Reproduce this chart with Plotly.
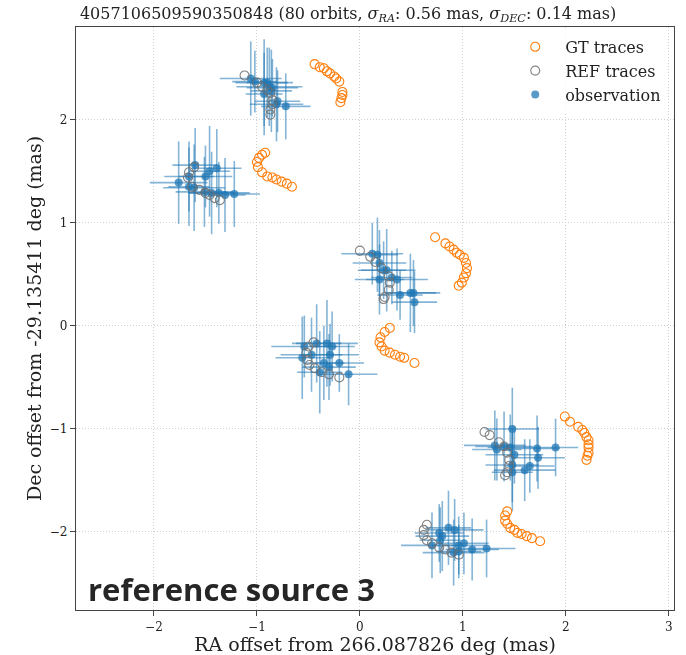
import plotly.graph_objects as go

# ---------------- data (mas offsets) ----------------
gt_ra = [-0.44, -0.39, -0.35, -0.32, -0.29, -0.25, -0.23, -0.20, -0.17, -0.17, -0.18, -0.19,
         -0.92, -0.95, -0.98, -1.00, -0.99, -0.95, -0.90, -0.85, -0.81, -0.76, -0.71, -0.66,
         0.73, 0.83, 0.87, 0.91, 0.94, 0.97, 1.01, 1.03, 1.04, 1.03, 1.01, 0.99, 0.96,
         0.29, 0.24, 0.20, 0.19, 0.21, 0.24, 0.29, 0.34, 0.39, 0.43, 0.53,
         1.99, 2.04, 2.12, 2.16, 2.18, 2.20, 2.22, 2.22, 2.22, 2.22, 2.21, 2.20,
         1.43, 1.41, 1.41, 1.43, 1.46, 1.50, 1.53, 1.57, 1.62, 1.67, 1.75]
gt_dec = [2.54, 2.51, 2.50, 2.47, 2.45, 2.42, 2.40, 2.37, 2.27, 2.24, 2.21, 2.17,
          1.68, 1.66, 1.63, 1.59, 1.54, 1.49, 1.45, 1.44, 1.42, 1.40, 1.38, 1.35,
          0.86, 0.80, 0.77, 0.74, 0.71, 0.69, 0.66, 0.61, 0.56, 0.51, 0.47, 0.42, 0.39,
          -0.02, -0.06, -0.11, -0.16, -0.20, -0.24, -0.26, -0.28, -0.30, -0.31, -0.36,
          -0.88, -0.93, -0.98, -1.01, -1.04, -1.08, -1.11, -1.15, -1.18, -1.23, -1.26, -1.30,
          -1.80, -1.84, -1.89, -1.92, -1.96, -1.98, -2.01, -2.02, -2.04, -2.06, -2.09]

ref_ra = [-1.12, -1.00, -0.95, -0.90, -0.87, -0.85, -0.85, -0.87, -0.87,
          -1.61, -1.66, -1.67, -1.63, -1.56, -1.50, -1.46, -1.41, -1.36,
          0.00, 0.10, 0.15, 0.21, 0.28, 0.29, 0.28, 0.24, 0.23,
          -0.45, -0.50, -0.52, -0.51, -0.49, -0.44, -0.37, -0.30, -0.20,
          1.21, 1.26, 1.35, 1.40, 1.43, 1.45, 1.45, 1.43, 1.41,
          0.65, 0.62, 0.62, 0.65, 0.70, 0.77, 0.83, 0.89, 0.96]
ref_dec = [2.43, 2.36, 2.32, 2.29, 2.26, 2.19, 2.15, 2.10, 2.05,
           1.54, 1.49, 1.44, 1.35, 1.32, 1.29, 1.27, 1.24, 1.22,
           0.73, 0.67, 0.62, 0.56, 0.48, 0.42, 0.35, 0.28, 0.26,
           -0.16, -0.20, -0.26, -0.33, -0.38, -0.41, -0.45, -0.47, -0.50,
           -1.03, -1.06, -1.13, -1.17, -1.23, -1.30, -1.36, -1.42, -1.45,
           -1.93, -1.98, -2.03, -2.08, -2.11, -2.15, -2.17, -2.20, -2.22]

obs_ra = [-1.06, -1.02, -0.93, -0.90, -0.85, -0.93, -0.88, -0.80, -0.81, -0.72, -0.86,
          -1.76, -1.66, -1.66, -1.61, -1.60, -1.50, -1.46, -1.39, -1.51, -1.44, -1.37, -1.31, -1.22,
          0.12, 0.17, 0.19, 0.23, 0.26, 0.19, 0.31, 0.36, 0.39, 0.49, 0.52, 0.53,
          -0.54, -0.56, -0.42, -0.32, -0.27, -0.29, -0.35, -0.30, -0.20, -0.11, -0.39, -0.47,
          1.48, 1.31, 1.33, 1.46, 1.50, 1.48, 1.48, 1.60, 1.65, 1.72, 1.73, 1.90, 1.40,
          0.70, 0.77, 0.80, 0.86, 0.92, 0.78, 0.96, 1.01, 0.96, 0.91, 1.09, 1.23]
obs_dec = [2.40, 2.37, 2.36, 2.36, 2.31, 2.25, 2.32, 2.18, 2.15, 2.13, 2.28,
           1.39, 1.45, 1.35, 1.34, 1.56, 1.45, 1.50, 1.53, 1.30, 1.29, 1.29, 1.27, 1.28,
           0.70, 0.69, 0.61, 0.54, 0.54, 0.45, 0.47, 0.45, 0.30, 0.32, 0.32, 0.23,
           -0.20, -0.31, -0.17, -0.17, -0.20, -0.28, -0.36, -0.40, -0.36, -0.47, -0.45, -0.28,
           -1.00, -1.16, -1.20, -1.18, -1.25, -1.35, -1.42, -1.40, -1.36, -1.19, -1.28, -1.18, -1.17,
           -2.13, -2.01, -2.04, -1.96, -1.98, -2.08, -2.13, -2.11, -2.19, -2.20, -2.17, -2.16]
obs_ra_err = [0.30, 0.22, 0.28, 0.20, 0.25, 0.18, 0.32, 0.22, 0.26, 0.24, 0.20,
              0.28, 0.24, 0.20, 0.30, 0.22, 0.26, 0.20, 0.24, 0.28, 0.22, 0.30, 0.20, 0.25,
              0.30, 0.20, 0.26, 0.22, 0.28, 0.24, 0.20, 0.30, 0.22, 0.25, 0.26, 0.22,
              0.32, 0.26, 0.24, 0.30, 0.22, 0.28, 0.20, 0.26, 0.24, 0.28, 0.22, 0.30,
              0.26, 0.30, 0.24, 0.22, 0.28, 0.26, 0.20, 0.30, 0.24, 0.22, 0.26, 0.22, 0.28,
              0.30, 0.24, 0.26, 0.22, 0.28, 0.20, 0.26, 0.24, 0.22, 0.30, 0.26, 0.28]
obs_dec_err = [0.36, 0.30, 0.42, 0.34, 0.28, 0.40, 0.38, 0.30, 0.36, 0.32, 0.40,
               0.40, 0.34, 0.38, 0.42, 0.36, 0.30, 0.44, 0.38, 0.34, 0.40, 0.30, 0.36, 0.32,
               0.30, 0.36, 0.32, 0.28, 0.40, 0.34, 0.26, 0.30, 0.24, 0.38, 0.32, 0.30,
               0.30, 0.40, 0.38, 0.42, 0.34, 0.30, 0.36, 0.32, 0.28, 0.30, 0.40, 0.36,
               0.40, 0.34, 0.30, 0.32, 0.28, 0.36, 0.38, 0.30, 0.26, 0.32, 0.30, 0.28, 0.34,
               0.32, 0.28, 0.34, 0.36, 0.30, 0.32, 0.28, 0.30, 0.26, 0.32, 0.30, 0.28]

x_ticks = [-2, -1, 0, 1, 2, 3]
y_ticks = [-2, -1, 0, 1, 2]

title_text = ("4057106509590350848 (80 orbits, <i>σ</i><sub><i>RA</i></sub>: 0.56 mas, "
              "<i>σ</i><sub><i>DEC</i></sub>: 0.14 mas)")
x_label = "RA offset from 266.087826 deg (mas)"
y_label = "Dec offset from -29.135411 deg (mas)"
watermark = "reference source 3"

SERIF = "DejaVu Serif"
BLUE = "#1f77b4"
ORANGE = "#ff7f0e"
GRAY = "#6e6e6e"

fig = go.Figure()

fig.add_trace(go.Scatter(
    x=obs_ra, y=obs_dec, mode="markers", name="observation",
    marker=dict(color=BLUE, size=8, opacity=0.75, line=dict(width=0)),
    error_x=dict(type="data", array=obs_ra_err, color="rgba(31,119,180,0.55)", thickness=1.6, width=0),
    error_y=dict(type="data", array=obs_dec_err, color="rgba(31,119,180,0.55)", thickness=1.6, width=0),
    legendrank=3,
))
fig.add_trace(go.Scatter(
    x=ref_ra, y=ref_dec, mode="markers", name="REF traces",
    marker=dict(symbol="circle-open", color=GRAY, size=9, line=dict(width=1.1)),
    opacity=0.85, legendrank=2,
))
fig.add_trace(go.Scatter(
    x=gt_ra, y=gt_dec, mode="markers", name="GT traces",
    marker=dict(symbol="circle-open", color=ORANGE, size=9, line=dict(width=1.1)),
    legendrank=1,
))

axis_common = dict(
    showgrid=True, gridcolor="#d0d0d0", griddash="1px,2px", gridwidth=1,
    zeroline=False, showline=True, linecolor="#444444", linewidth=1.2, mirror=True,
    ticks="outside", ticklen=5, tickwidth=1, tickcolor="#444444",
    tickfont=dict(family=SERIF, size=12, color="#222222"),
    automargin=False,
)

fig.update_xaxes(range=[-2.757, 3.05], tickvals=x_ticks,
                 ticktext=[str(t).replace("-", "−") for t in x_ticks],
                 title=dict(text=x_label, font=dict(family=SERIF, size=19, color="#222222"), standoff=5),
                 **axis_common)
fig.update_yaxes(range=[-2.757, 2.90], tickvals=y_ticks,
                 ticktext=[str(t).replace("-", "−") for t in y_ticks],
                 title=dict(text=y_label, font=dict(family=SERIF, size=19, color="#222222"), standoff=3),
                 **axis_common)

fig.update_layout(
    width=686, height=655,
    margin=dict(l=76, r=12, t=27, b=45),
    paper_bgcolor="white", plot_bgcolor="white",
    title=dict(text=title_text, x=0.455, xref="paper", xanchor="center", y=0.988, yanchor="top",
               font=dict(family=SERIF, size=16, color="#222222")),
    legend=dict(x=0.987, y=0.995, xanchor="right", yanchor="top",
                font=dict(family=SERIF, size=16, color="#222222"),
                bgcolor="rgba(255,255,255,0.8)", itemsizing="trace", itemwidth=50,
                tracegroupgap=0),
    showlegend=True,
)

fig.add_annotation(
    text="<b>" + watermark + "</b>", xref="paper", yref="paper", x=0.017, y=-0.003,
    xanchor="left", yanchor="bottom", showarrow=False,
    font=dict(family="Open Sans", size=31, color="#262626"),
)

fig.write_html("out.html")
